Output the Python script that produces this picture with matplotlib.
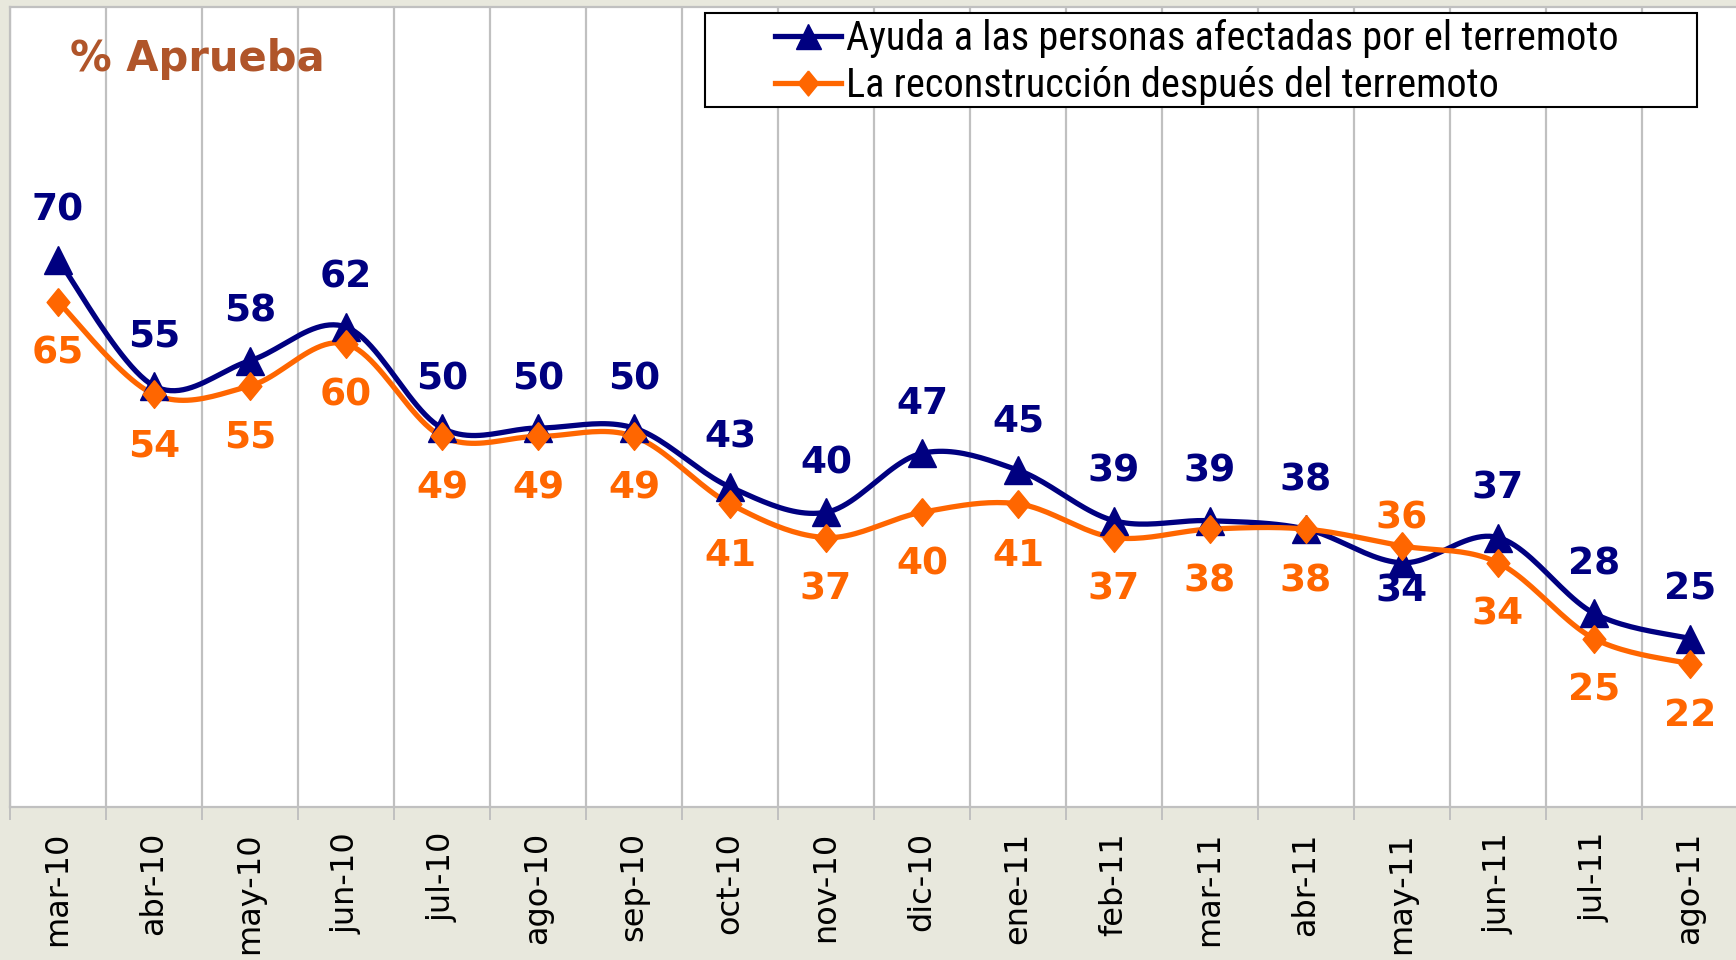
import numpy as np
import matplotlib
matplotlib.use("Agg")
import matplotlib.pyplot as plt
from matplotlib.patches import Rectangle

# data
months = ["mar-10", "abr-10", "may-10", "jun-10", "jul-10", "ago-10", "sep-10",
          "oct-10", "nov-10", "dic-10", "ene-11", "feb-11", "mar-11", "abr-11",
          "may-11", "jun-11", "jul-11", "ago-11"]
ayuda = [70, 55, 58, 62, 50, 50, 50, 43, 40, 47, 45, 39, 39, 38, 34, 37, 28, 25]
reconstruccion = [65, 54, 55, 60, 49, 49, 49, 41, 37, 40, 41, 37, 38, 38, 36, 34, 25, 22]
series_names = ["Ayuda a las personas afectadas por el terremoto",
                "La reconstrucción después del terremoto"]

NAVY = "#000080"
ORANGE = "#FF6600"
BG = "#E8E8DD"
GRID = "#C0C0C0"


def smooth(x, y, n=24):
    """Excel-like smoothed line (Catmull-Rom as cubic Bezier)."""
    P = np.column_stack([x, y]).astype(float)
    out = []
    for i in range(len(P) - 1):
        p0 = P[i - 1] if i > 0 else P[i]
        p1, p2 = P[i], P[i + 1]
        p3 = P[i + 2] if i + 2 < len(P) else P[i + 1]
        c1 = p1 + (p2 - p0) / 6
        c2 = p2 - (p3 - p1) / 6
        t = np.linspace(0, 1, n)[:, None]
        seg = ((1 - t) ** 3) * p1 + 3 * ((1 - t) ** 2) * t * c1 \
            + 3 * (1 - t) * t ** 2 * c2 + t ** 3 * p2
        out.append(seg if i == 0 else seg[1:])
    s = np.vstack(out)
    return s[:, 0], s[:, 1]


W, H = 1736, 960
fig = plt.figure(figsize=(W / 100, H / 100), dpi=100, facecolor=BG)
ax = fig.add_axes([10 / W, (H - 807) / H, 1728 / W, 800 / H])
ax.set_facecolor("white")

x = np.arange(len(months))
diamond = [(0, 1), (0.82, 0), (0, -1), (-0.82, 0), (0, 1)]

for vals, color, mk, ms in [(ayuda, NAVY, "^", 20), (reconstruccion, ORANGE, diamond, 20)]:
    sx, sy = smooth(x, vals)
    ax.plot(sx, sy, color=color, lw=3.8, solid_capstyle="round", zorder=3)
    ax.plot(x, vals, ls="none", marker=mk, ms=ms, color=color, zorder=4)

# value labels: the higher series above, the lower one below
for i in x:
    a, r = ayuda[i], reconstruccion[i]
    off = 49 if a >= r else -29
    ax.annotate(str(a), (i, a), xytext=(0, off), textcoords="offset pixels",
                ha="center", va="center", fontsize=27, fontweight="bold", color=NAVY)
    off = -52 if a >= r else 27
    ax.annotate(str(r), (i, r), xytext=(0, off), textcoords="offset pixels",
                ha="center", va="center", fontsize=27, fontweight="bold", color=ORANGE)

ax.set_xlim(-0.5, len(months) - 0.5)
ax.set_ylim(5, 100)
ax.set_yticks([])
ax.set_xticks(x)
ax.set_xticklabels(months, rotation=90, fontsize=23, va="top")
ax.set_xticks(np.arange(-0.5, len(months), 1), minor=True)
ax.tick_params(axis="x", which="major", length=0, pad=18)
ax.tick_params(axis="x", which="minor", length=9, width=1.4, color=GRID, direction="out")
ax.grid(which="minor", axis="x", color=GRID, lw=1.6)
ax.set_axisbelow(True)
for side in ["left", "top", "bottom"]:
    ax.spines[side].set_color(GRID)
    ax.spines[side].set_linewidth(1.6)
ax.spines["right"].set_visible(False)

fig.text(70 / W, 1 - 71 / H, "% Aprueba", fontsize=30, fontweight="bold",
         color="#B0552A", va="baseline", ha="left", zorder=3)

# legend: box drawn separately, Excel leaves wide margins around the entries
fig.add_artist(Rectangle((705 / W, 1 - 107 / H), 992 / W, 94 / H,
                         transform=fig.transFigure, facecolor="white",
                         edgecolor="black", lw=1.5, zorder=3))
handles = [
    plt.Line2D([], [], color=NAVY, lw=3.8, marker="^", ms=18),
    plt.Line2D([], [], color=ORANGE, lw=3.8, marker=diamond, ms=18),
]
fig.legend(handles, series_names, loc="center left",
           bbox_to_anchor=(775 / W, 1 - 62 / H), bbox_transform=fig.transFigure,
           frameon=False, borderpad=0, borderaxespad=0, handlelength=1.65,
           handletextpad=0.12, labelspacing=0.18,
           prop={"family": ["Roboto Condensed", "Liberation Sans Narrow", "Roboto",
                            "DejaVu Sans"], "size": 29})

fig.savefig("out.png", dpi=100, facecolor=BG)
